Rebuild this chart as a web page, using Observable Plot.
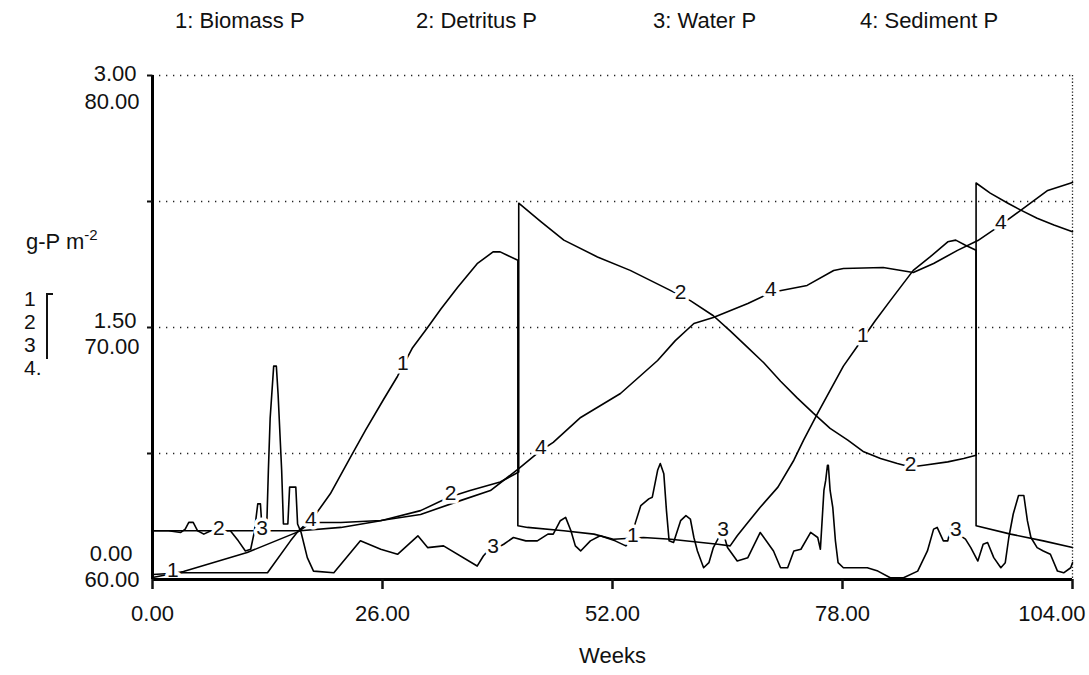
<!DOCTYPE html>
<html><head><meta charset="utf-8">
<script src="https://cdn.jsdelivr.net/npm/d3@7"></script>
<script src="https://cdn.jsdelivr.net/npm/@observablehq/plot@0.6"></script>
<style>
body{margin:0;background:#fff;}
#wrap{position:relative;width:1089px;height:675px;font-family:"Liberation Sans",Arial,sans-serif;color:#111;overflow:hidden;}
#wrap svg{position:absolute;left:0;top:0;}
.lg{position:absolute;top:8px;font-size:22px;white-space:nowrap;}
.yl{position:absolute;font-size:22px;white-space:nowrap;}
.yl sup{font-size:15px;vertical-align:9px;}
.st{position:absolute;left:24px;font-size:21px;line-height:21px;}
#br{position:absolute;left:46px;top:293px;width:5px;height:64px;border-left:2px solid #111;border-top:2px solid #111;}
</style></head><body><div id="wrap"></div>
<script>
// ---- data ----
const seriesNames = ["1: Biomass P", "2: Detritus P", "3: Water P", "4: Sediment P"];
const xTicks = [0, 26, 52, 78, 104];
const yTicksLeft = [0, 1.5, 3];          // scale for series 1-3
const yTicksRight = [60, 70, 80];        // scale for series 4
const gridTicks = [0.75, 1.5, 2.25, 3];

const biomassWeeks = [0,3.5,13.0,15.6,16.5,18.2,20.1,22.4,24.1,26.1,27.7,29.4,31.1,32.6,34.5,36.7,38.5,39.3,40.1,41.3,41.3,42.4,46.5,49.9,52.1,55.5,58.6,63.9,65.3,66.1,67.3,68.7,70.7,72.5,73.6,75.2,78.1,79.7,81.7,83.4,86.0,87.9,89.9,90.8,91.9,93.1,93.1,97.0,100.7,104];
const biomassP = [0.03,0.04,0.04,0.23,0.29,0.37,0.51,0.73,0.89,1.07,1.21,1.38,1.50,1.61,1.74,1.88,1.95,1.95,1.93,1.90,0.32,0.31,0.29,0.27,0.24,0.25,0.24,0.21,0.20,0.26,0.34,0.43,0.55,0.71,0.83,0.99,1.27,1.39,1.54,1.66,1.84,1.92,2.01,2.02,1.99,1.96,0.32,0.27,0.23,0.19];

const detritusWeeks = [0,8.8,16.7,21.3,25.8,30.3,33.5,35.9,39.3,41.4,41.4,43.9,46.5,50.3,54.0,58.2,60.8,63.4,65.3,67.3,69.1,71.0,72.9,74.7,76.6,78.6,80.4,82.3,84.2,85.7,87.2,89.9,91.7,93.1,93.1,94.7,96.7,98.1,100.0,101.9,104];
const detritusP = [0.29,0.29,0.29,0.31,0.35,0.41,0.49,0.53,0.58,0.64,2.24,2.13,2.02,1.92,1.84,1.73,1.66,1.57,1.48,1.38,1.29,1.18,1.08,0.99,0.90,0.83,0.76,0.72,0.69,0.67,0.68,0.70,0.72,0.74,2.36,2.30,2.24,2.20,2.15,2.11,2.07];

const waterWeeks = [0,1.8,3.2,3.7,4.1,4.6,5.1,5.8,6.6,8.8,9.7,10.5,11.1,11.5,11.9,12.2,12.4,12.9,13.1,13.3,13.7,14.0,14.2,14.6,14.8,15.3,15.5,16.2,16.4,16.8,17.5,18.2,20.5,23.5,25.8,27.7,30.0,31.1,32.9,36.7,37.4,37.9,39.0,39.7,40.8,42.2,43.5,44.7,45.3,46.1,46.7,47.3,47.8,48.4,49.5,50.6,52.3,53.5,54.0,54.6,55.2,56.1,56.5,57.1,57.4,57.8,58.1,58.4,58.9,59.7,60.3,60.8,61.2,61.6,62.3,62.9,63.4,64.0,64.4,65.0,66.1,67.3,68.7,70.2,71.0,71.8,72.5,73.3,74.4,75.2,75.5,75.9,76.1,76.3,76.4,76.6,76.9,77.2,77.5,78.1,80.8,82.0,83.4,84.9,86.5,87.6,88.3,88.7,89.4,89.9,90.2,91.9,92.5,93.3,93.9,94.4,95.1,95.9,96.4,96.8,97.3,97.9,98.5,98.9,99.3,100.0,100.7,101.5,102.3,103.0,103.8,104];
const waterP = [0.29,0.29,0.28,0.30,0.34,0.34,0.29,0.27,0.29,0.29,0.23,0.17,0.18,0.28,0.45,0.45,0.29,0.29,0.65,0.96,1.27,1.27,1.10,0.65,0.33,0.33,0.55,0.55,0.33,0.28,0.13,0.05,0.04,0.23,0.18,0.15,0.26,0.19,0.20,0.08,0.14,0.17,0.19,0.21,0.25,0.23,0.23,0.27,0.27,0.35,0.37,0.29,0.20,0.17,0.23,0.26,0.23,0.20,0.23,0.34,0.44,0.48,0.49,0.65,0.69,0.63,0.41,0.23,0.22,0.35,0.38,0.36,0.25,0.17,0.07,0.10,0.19,0.25,0.30,0.19,0.11,0.13,0.28,0.17,0.07,0.07,0.17,0.18,0.28,0.25,0.18,0.53,0.59,0.68,0.68,0.53,0.43,0.23,0.10,0.07,0.07,0.05,0.01,0.01,0.05,0.17,0.30,0.31,0.23,0.23,0.30,0.24,0.19,0.11,0.21,0.22,0.13,0.07,0.10,0.25,0.39,0.50,0.50,0.35,0.25,0.19,0.17,0.15,0.05,0.04,0.07,0.10];

const sedimentWeeks = [0,3.5,10.7,16.5,17.9,21.3,25.8,30.3,34.8,38.2,41.4,43.9,45.3,48.4,52.9,57.1,59.1,61.2,63.4,67.3,69.9,74.0,77.0,78.1,82.6,86.0,88.3,91.0,93.3,95.5,98.1,101.2,104];
const sedimentP = [60.08,60.32,61.07,61.90,62.26,62.26,62.34,62.58,63.13,63.53,64.40,65.12,65.44,66.43,67.38,68.69,69.48,70.16,70.40,70.95,71.39,71.67,72.26,72.34,72.38,72.18,72.54,73.06,73.45,73.97,74.64,75.44,75.75];

// weeks at which the curve numbers are printed on each line
const labelWeeks1 = [2.3, 28.3, 54.3, 80.3];
const labelWeeks2 = [7.5, 33.7, 59.7, 85.7];
const labelWeeks3 = [12.4, 38.5, 64.5, 90.8];
const labelWeeks4 = [17.9, 43.9, 69.9, 95.9];

// ---- build ----
const toLeft = v => (v - 60) * 3 / 20;   // sediment scale 60..80 onto 0..3
const s1 = d3.zip(biomassWeeks, biomassP).map(([w, v]) => ({w, v}));
const s2 = d3.zip(detritusWeeks, detritusP).map(([w, v]) => ({w, v}));
const s3 = d3.zip(waterWeeks, waterP).map(([w, v]) => ({w, v}));
const s4 = d3.zip(sedimentWeeks, sedimentP).map(([w, v]) => ({w, v: toLeft(v)}));

function interp(s, w) {
  for (let i = 0; i < s.length - 1; i++) {
    const a = s[i], b = s[i + 1];
    if (w >= a.w && w <= b.w && b.w > a.w) return a.v + (b.v - a.v) * (w - a.w) / (b.w - a.w);
  }
  return s[s.length - 1].v;
}
const labels = [];
[[s1, labelWeeks1, "1"], [s2, labelWeeks2, "2"], [s3, labelWeeks3, "3"], [s4, labelWeeks4, "4"]]
  .forEach(([s, ws, t]) => ws.forEach(w => labels.push({w, v: interp(s, w), t})));

const fmt = d3.format(".2f");
const font = '"Liberation Sans", Arial, sans-serif';

const plot = Plot.plot({
  width: 1089, height: 675,
  marginLeft: 152, marginRight: 17, marginTop: 75, marginBottom: 96,
  x: {domain: [0, 104]},
  y: {domain: [0, 3]},
  axis: null,
  style: {background: "transparent", fontFamily: font, color: "#111", overflow: "visible"},
  marks: [
    Plot.ruleY(gridTicks, {stroke: "#222", strokeWidth: 1.3, strokeDasharray: "1.3,5.7"}),
    Plot.ruleX([104], {stroke: "#222", strokeWidth: 1.3, strokeDasharray: "1.3,2"}),
    Plot.line(s1, {x: "w", y: "v", stroke: "#000", strokeWidth: 1.6}),
    Plot.line(s2, {x: "w", y: "v", stroke: "#000", strokeWidth: 1.6}),
    Plot.line(s3, {x: "w", y: "v", stroke: "#000", strokeWidth: 1.6}),
    Plot.line(s4, {x: "w", y: "v", stroke: "#000", strokeWidth: 1.6}),
    Plot.text(labels, {x: "w", y: "v", text: "t", fill: "#111", stroke: "#fff", strokeWidth: 7, fontSize: 21, dy: -3}),
    Plot.ruleX([0], {stroke: "#000", strokeWidth: 3}),
    Plot.ruleY([0], {stroke: "#000", strokeWidth: 3}),
    Plot.axisY({ticks: gridTicks, tickSize: 5, strokeWidth: 2, tickFormat: () => "", label: null}),
    Plot.axisX({ticks: xTicks, tickSize: 10, strokeWidth: 2.5, tickFormat: () => "", label: null}),
    Plot.text(xTicks.slice(0, -1), {x: d => d, y: 0, text: d => fmt(d), dy: 34, fontSize: 22, fill: "#111"}),
    Plot.text(xTicks.slice(-1), {x: d => d, y: 0, text: d => fmt(d), dy: 34, dx: 13, textAnchor: "end", fontSize: 22, fill: "#111"}),
    Plot.text(["Weeks"], {frameAnchor: "bottom", dy: 83, fontSize: 22, fill: "#111"}),
    // primary scale labels (series 1-3)
    Plot.text([yTicksLeft[2]], {x: 0, y: d => d, text: d => fmt(d), textAnchor: "end", dx: -16, dy: -2, fontSize: 22, fill: "#111"}),
    Plot.text([yTicksLeft[1]], {x: 0, y: d => d, text: d => fmt(d), textAnchor: "end", dx: -16, dy: -7, fontSize: 22, fill: "#111"}),
    Plot.text([yTicksLeft[0]], {x: 0, y: d => d, text: d => fmt(d), textAnchor: "end", dx: -20, dy: -26, fontSize: 22, fill: "#111"}),
    // secondary scale labels (series 4)
    Plot.text([yTicksRight[2]], {x: 0, y: () => 3, text: d => fmt(d), textAnchor: "end", dx: -13, dy: 26, fontSize: 22, fill: "#111"}),
    Plot.text([yTicksRight[1]], {x: 0, y: () => 1.5, text: d => fmt(d), textAnchor: "end", dx: -13, dy: 19, fontSize: 22, fill: "#111"}),
    Plot.text([yTicksRight[0]], {x: 0, y: () => 0, text: d => fmt(d), textAnchor: "end", dx: -13, dy: 0, fontSize: 22, fill: "#111"})
  ]
});

const wrap = document.getElementById("wrap");
wrap.appendChild(plot);

const legendLeft = [175, 416, 653, 860];
seriesNames.forEach((n, i) => {
  const d = document.createElement("div");
  d.className = "lg"; d.style.left = legendLeft[i] + "px"; d.textContent = n;
  wrap.appendChild(d);
});
const yl = document.createElement("div");
yl.className = "yl"; yl.style.left = "26px"; yl.style.top = "226px";
yl.innerHTML = "g-P m<sup>-2</sup>";
wrap.appendChild(yl);
["1", "2", "3", "4."].forEach((t, i) => {
  const d = document.createElement("div");
  d.className = "st"; d.style.top = (288 + i * 23) + "px"; d.textContent = t;
  wrap.appendChild(d);
});
const br = document.createElement("div"); br.id = "br"; wrap.appendChild(br);
</script></body></html>
